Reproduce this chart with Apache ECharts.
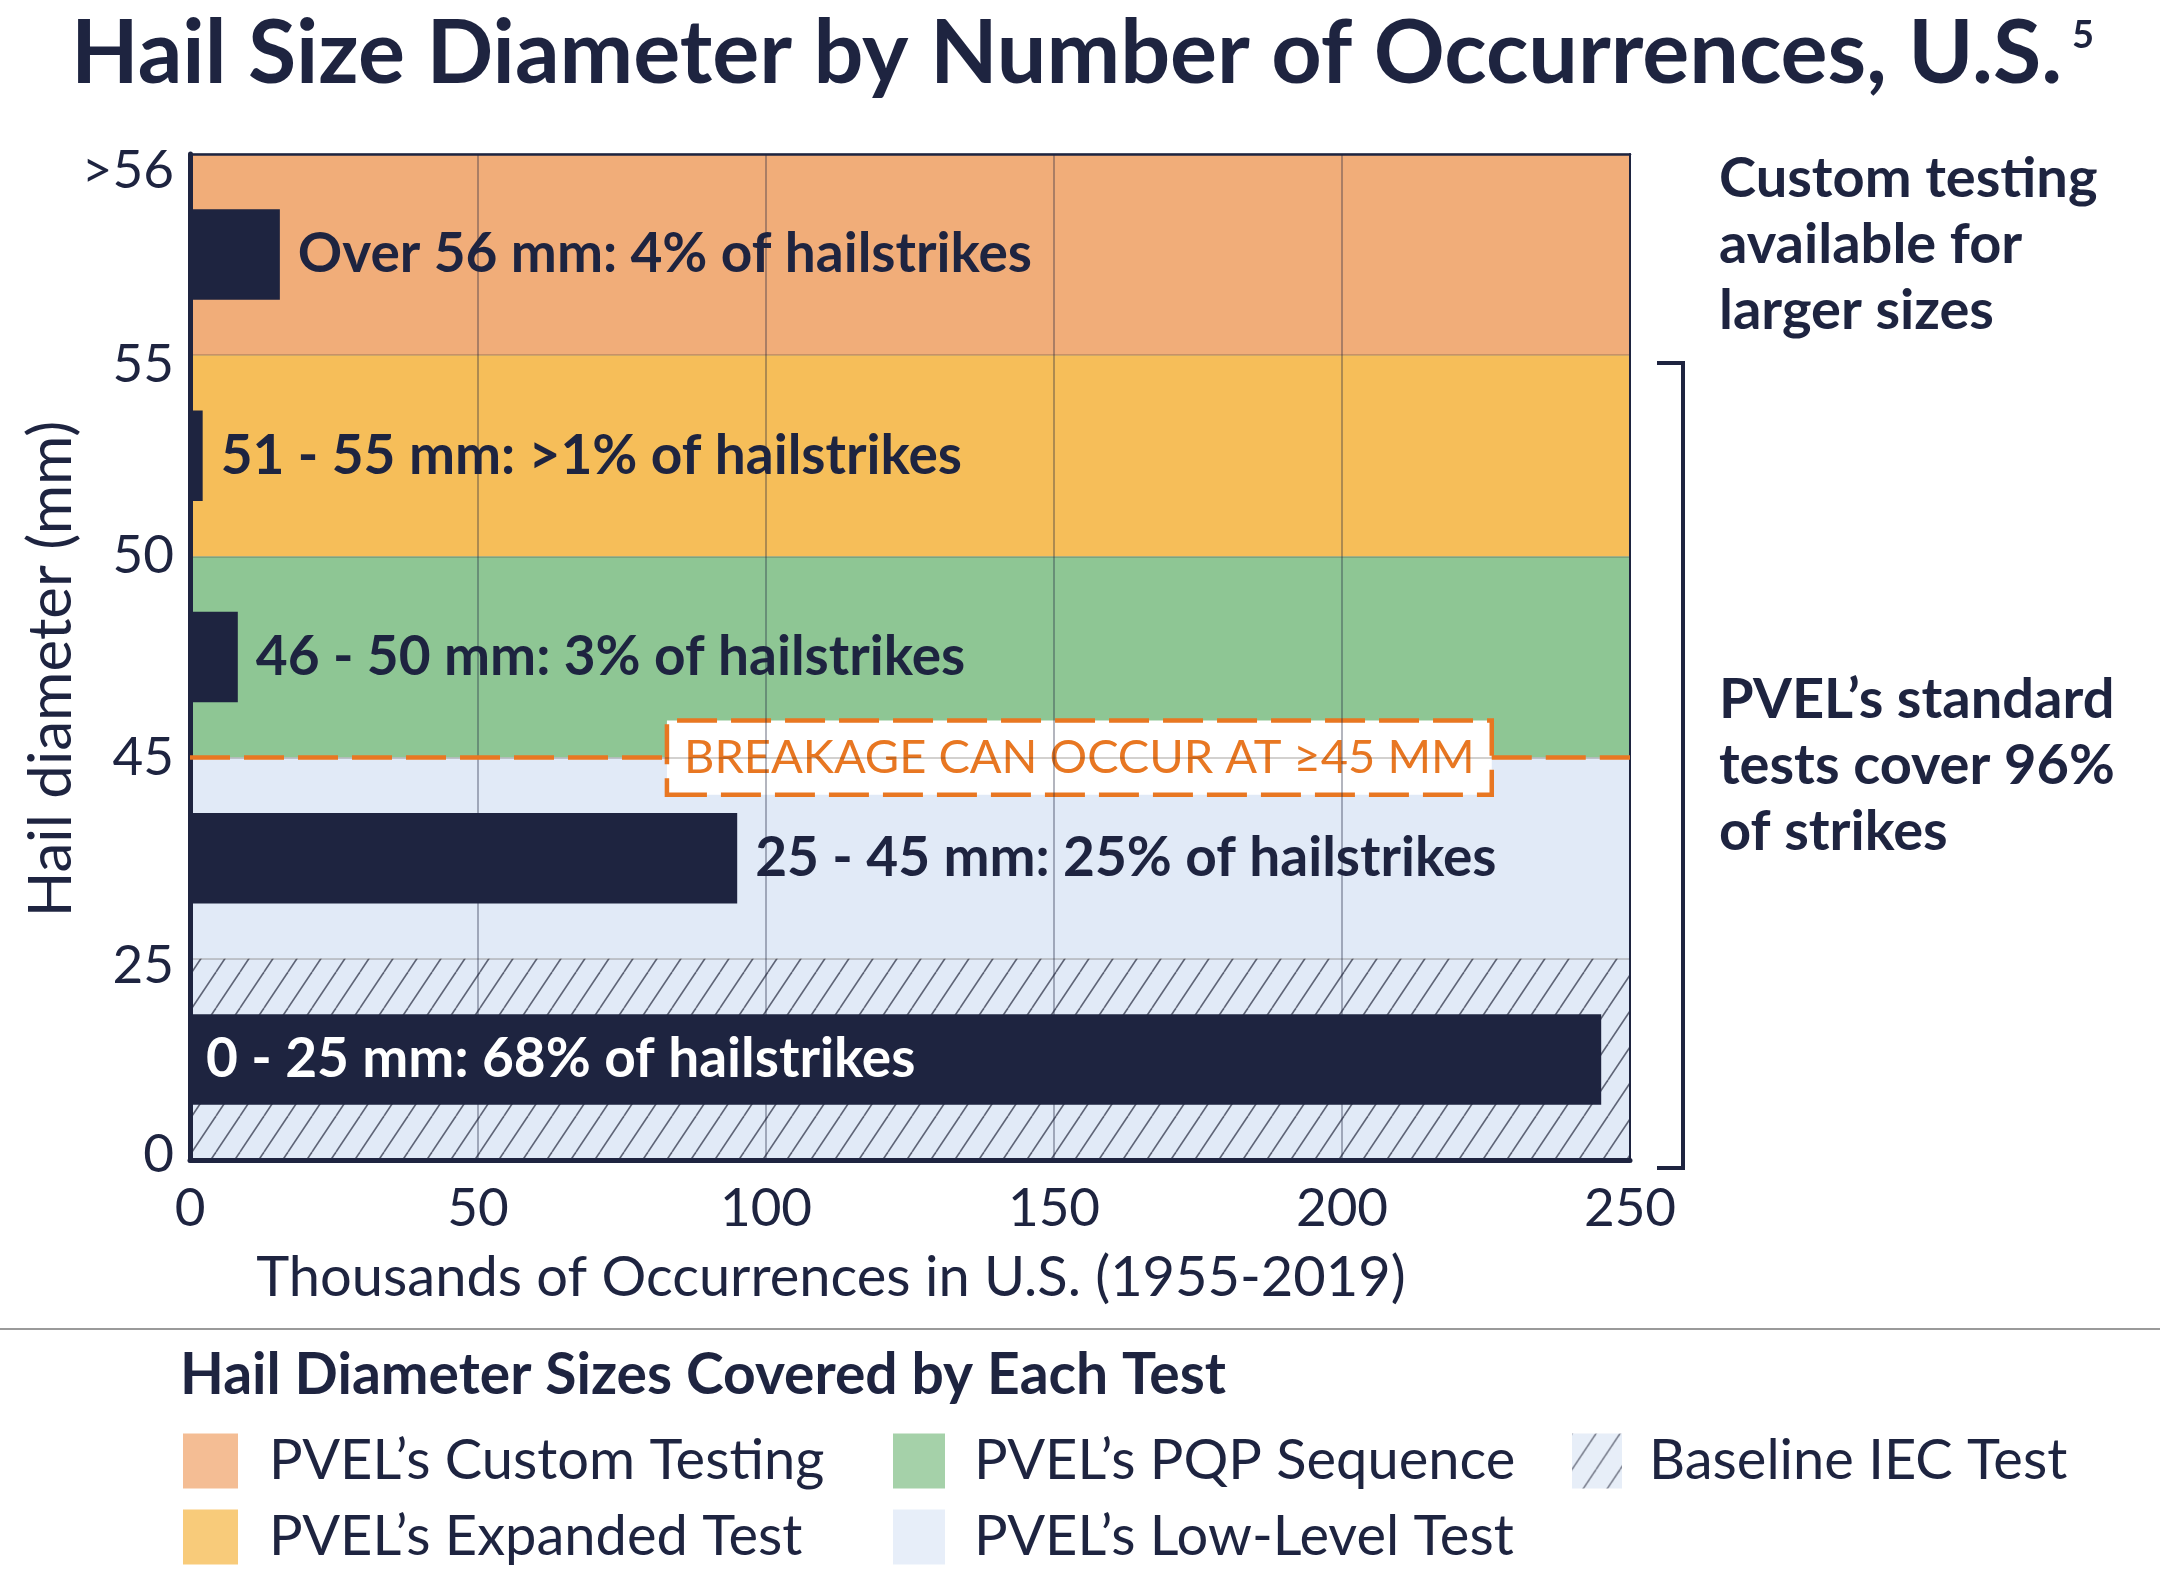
<!DOCTYPE html>
<html><head><meta charset="utf-8">
<script src="https://cdn.jsdelivr.net/npm/echarts@6/dist/echarts.min.js"></script>
<style>html,body{margin:0;padding:0;background:#fff}#c{width:2160px;height:1572px}</style>
</head><body><div id="c"></div>
<script>
// ---------- data ----------
const categories = ['0 - 25', '25 - 45', '46 - 50', '51 - 55', 'Over 56'];
const occurrences = [245, 95, 8.3, 2.2, 15.6]; // thousands, 1955-2019
const barLabels = [
  '0 - 25 mm: 68% of hailstrikes',
  '25 - 45 mm: 25% of hailstrikes',
  '46 - 50 mm: 3% of hailstrikes',
  '51 - 55 mm: >1% of hailstrikes',
  'Over 56 mm: 4% of hailstrikes'
];
const yTickLabels = ['0', '25', '45', '50', '55', '>56'];
const bandNames = ['PVEL’s Custom Testing', 'PVEL’s Expanded Test', 'PVEL’s PQP Sequence', 'PVEL’s Low-Level Test', 'Baseline IEC Test'];
const bandRanges = [[4, 5], [3, 4], [2, 3], [1, 2], [0, 1]]; // band index ranges on diameter scale
const breakageLevel = 2; // boundary at 45 mm
const breakageBoxX = [82.8, 226]; // annotation box extent on the occurrences axis
const breakageText = 'BREAKAGE CAN OCCUR AT ≥45 MM';
const titleText = 'Hail Size Diameter by Number of Occurrences, U.S.';
const xName = 'Thousands of Occurrences in U.S. (1955-2019)';
const yName = 'Hail diameter (mm)';
const noteTop = 'Custom testing\navailable for\nlarger sizes';
const noteBottom = 'PVEL’s standard\ntests cover 96%\nof strikes';
const legendTitle = 'Hail Diameter Sizes Covered by Each Test';

// ---------- styles ----------
const NAVY = '#1E2440';
const ORANGE = '#E87722';
const FONT = 'Lato, "Noto Sans", sans-serif';
function makeHatch() {
  const w = 24, h = 36;
  const c = document.createElement('canvas'); c.width = w; c.height = h;
  const g = c.getContext('2d');
  g.fillStyle = '#E1EAF7'; g.fillRect(0, 0, w, h);
  g.strokeStyle = '#5E6476'; g.lineWidth = 1.6;
  for (const o of [-w, 0, w]) { g.beginPath(); g.moveTo(o, h); g.lineTo(o + w, 0); g.stroke(); }
  return c;
}
const bandColors = ['#F1AD79', '#F6BE59', '#8EC694', '#E1EAF7', { image: makeHatch(), repeat: 'repeat' }];
const tickRich = {
  l0: { fontSize: 53, color: NAVY, fontFamily: FONT, padding: [0, 0, 10, 0] },
  l1: { fontSize: 53, color: NAVY, fontFamily: FONT, padding: [14, 0, 0, 0] },
  l2: { fontSize: 53, color: NAVY, fontFamily: FONT },
  l3: { fontSize: 53, color: NAVY, fontFamily: FONT },
  l4: { fontSize: 53, color: NAVY, fontFamily: FONT, padding: [20, 0, 0, 0] },
  l5: { fontSize: 53, color: NAVY, fontFamily: FONT, padding: [34, 0, 0, 0] }
};

const chart = echarts.init(document.getElementById('c'), null, { renderer: 'canvas' });

const bandSeries = bandNames.map((n, i) => ({
  type: 'scatter', name: n, xAxisIndex: 0, yAxisIndex: 1, data: [], z: 1, silent: true,
  itemStyle: { color: bandColors[i] },
  markArea: {
    silent: true, label: { show: false },
    itemStyle: { color: bandColors[i], opacity: 1, borderWidth: 0 },
    data: [[{ yAxis: bandRanges[i][0] }, { yAxis: bandRanges[i][1] }]]
  }
}));

const option = {
  backgroundColor: '#fff',
  animation: false,
  textStyle: { fontFamily: FONT },
  title: {
    text: '{t|' + titleText + '}{s|5}', left: 66, top: 0,
    textStyle: {
      rich: {
        t: { fontFamily: FONT, fontSize: 88, fontWeight: 'bold', color: NAVY, lineHeight: 100 },
        s: { fontFamily: FONT, fontSize: 38, color: NAVY, verticalAlign: 'top', lineHeight: 100, padding: [12, 0, 0, 10] }
      }
    }
  },
  grid: { left: 190, right: 530, top: 154, bottom: 412 },
  xAxis: [
    {
      type: 'value', min: 0, max: 250, interval: 50, position: 'bottom', z: 2,
      axisLine: { show: true, onZero: false, lineStyle: { color: NAVY, width: 5 } },
      axisTick: { show: false },
      axisLabel: { fontSize: 53, color: NAVY, margin: 22, fontFamily: FONT },
      splitLine: { show: true, lineStyle: { color: 'rgba(30,36,64,0.45)', width: 1.5 } },
      name: xName, nameLocation: 'middle', nameGap: 90,
      nameTextStyle: { fontSize: 56, color: NAVY, fontFamily: FONT, padding: [0, 158, 0, 0] }
    },
    {
      type: 'value', min: 0, max: 250, position: 'top', z: 2,
      axisLine: { show: true, onZero: false, lineStyle: { color: NAVY, width: 2.5 } },
      axisTick: { show: false }, axisLabel: { show: false }, splitLine: { show: false }
    }
  ],
  yAxis: [
    {
      type: 'category', data: categories, position: 'right', z: 2,
      axisLine: { show: true, onZero: false, lineStyle: { color: NAVY, width: 2 } },
      axisTick: { show: false }, axisLabel: { show: false }, splitLine: { show: false }
    },
    {
      type: 'value', min: 0, max: 5, interval: 1, position: 'left', z: 2,
      axisLine: { show: true, onZero: false, lineStyle: { color: NAVY, width: 5 } },
      axisTick: { show: false },
      axisLabel: { formatter: v => '{l' + v + '|' + yTickLabels[v] + '}', rich: tickRich, margin: 16 },
      splitLine: { show: true, lineStyle: { color: 'rgba(60,50,40,0.3)', width: 1.5 } },
      name: yName, nameLocation: 'middle', nameGap: 108, nameRotate: 90, nameMoveOverlap: false,
      nameTextStyle: { fontSize: 60, color: NAVY, fontFamily: FONT, padding: [0, 24, 0, 0] }
    }
  ],
  legend: [
    {
      data: [bandNames[0], bandNames[1]], left: 183, top: 1433, orient: 'vertical', padding: 0,
      itemWidth: 55, itemHeight: 55, itemGap: 20, icon: 'rect', selectedMode: false,
      textStyle: { fontSize: 56, color: NAVY, fontFamily: FONT, padding: [0, 0, 0, 26] }
    },
    {
      data: [bandNames[2], bandNames[3]], left: 893, top: 1433, orient: 'vertical', padding: 0,
      itemWidth: 52, itemHeight: 55, itemGap: 20, icon: 'rect', selectedMode: false,
      textStyle: { fontSize: 56, color: NAVY, fontFamily: FONT, padding: [0, 0, 0, 24] }
    },
    {
      data: [bandNames[4]], left: 1572, top: 1433, orient: 'vertical', padding: 0,
      itemWidth: 50, itemHeight: 55, itemGap: 20, icon: 'rect', selectedMode: false,
      textStyle: { fontSize: 56, color: NAVY, fontFamily: FONT, padding: [0, 0, 0, 22] }
    }
  ],
  series: [
    ...bandSeries,
    {
      type: 'bar', name: 'Occurrences', xAxisIndex: 0, yAxisIndex: 0, z: 3, barWidth: '45%',
      itemStyle: { color: NAVY },
      label: {
        show: true, position: 'right', distance: 18, color: NAVY,
        fontSize: 55, fontWeight: 'bold', fontFamily: FONT,
        formatter: p => barLabels[p.dataIndex]
      },
      data: occurrences.map((v, i) => i === 0
        ? { value: v, label: { position: 'insideLeft', color: '#fff', distance: 16 } }
        : v)
    },
    {
      type: 'scatter', name: 'breakline', xAxisIndex: 0, yAxisIndex: 1, data: [], z: 4, silent: true,
      markLine: {
        silent: true, symbol: 'none', label: { show: false },
        lineStyle: { color: ORANGE, width: 4.5, type: [40, 14] },
        data: [
          [{ xAxis: 0, yAxis: breakageLevel }, { xAxis: breakageBoxX[0], yAxis: breakageLevel }],
          [{ xAxis: breakageBoxX[1], yAxis: breakageLevel }, { xAxis: 250, yAxis: breakageLevel }]
        ]
      }
    },
    {
      type: 'scatter', name: 'breakbox', xAxisIndex: 0, yAxisIndex: 1, data: [], z: 5, silent: true,
      markArea: {
        silent: true,
        itemStyle: { color: '#fff', opacity: 1, borderColor: ORANGE, borderWidth: 4.5, borderType: [40, 14] },
        label: { show: true, position: 'inside', color: ORANGE, fontSize: 47, fontFamily: FONT },
        data: [[{ xAxis: breakageBoxX[0], yAxis: breakageLevel - 0.185, name: breakageText }, { xAxis: breakageBoxX[1], yAxis: breakageLevel + 0.185 }]]
      }
    }
  ],
  graphic: [
    { type: 'text', x: 1719, y: 146, style: { text: noteTop, font: 'bold 56px ' + FONT, fill: NAVY, lineHeight: 66, verticalAlign: 'top' } },
    { type: 'text', x: 1719, y: 667, style: { text: noteBottom, font: 'bold 56px ' + FONT, fill: NAVY, lineHeight: 66, verticalAlign: 'top' } },
    { type: 'polyline', shape: { points: [[1657, 363], [1683, 363], [1683, 1168], [1657, 1168]] }, style: { stroke: NAVY, lineWidth: 4, fill: null } },
    { type: 'line', shape: { x1: 0, y1: 1329, x2: 2160, y2: 1329 }, style: { stroke: '#9A9A9A', lineWidth: 2 } },
    { type: 'text', x: 180, y: 1376, style: { text: legendTitle, font: 'bold 57px ' + FONT, fill: NAVY, verticalAlign: 'middle' } }
  ]
};
chart.setOption(option);
</script></body></html>
